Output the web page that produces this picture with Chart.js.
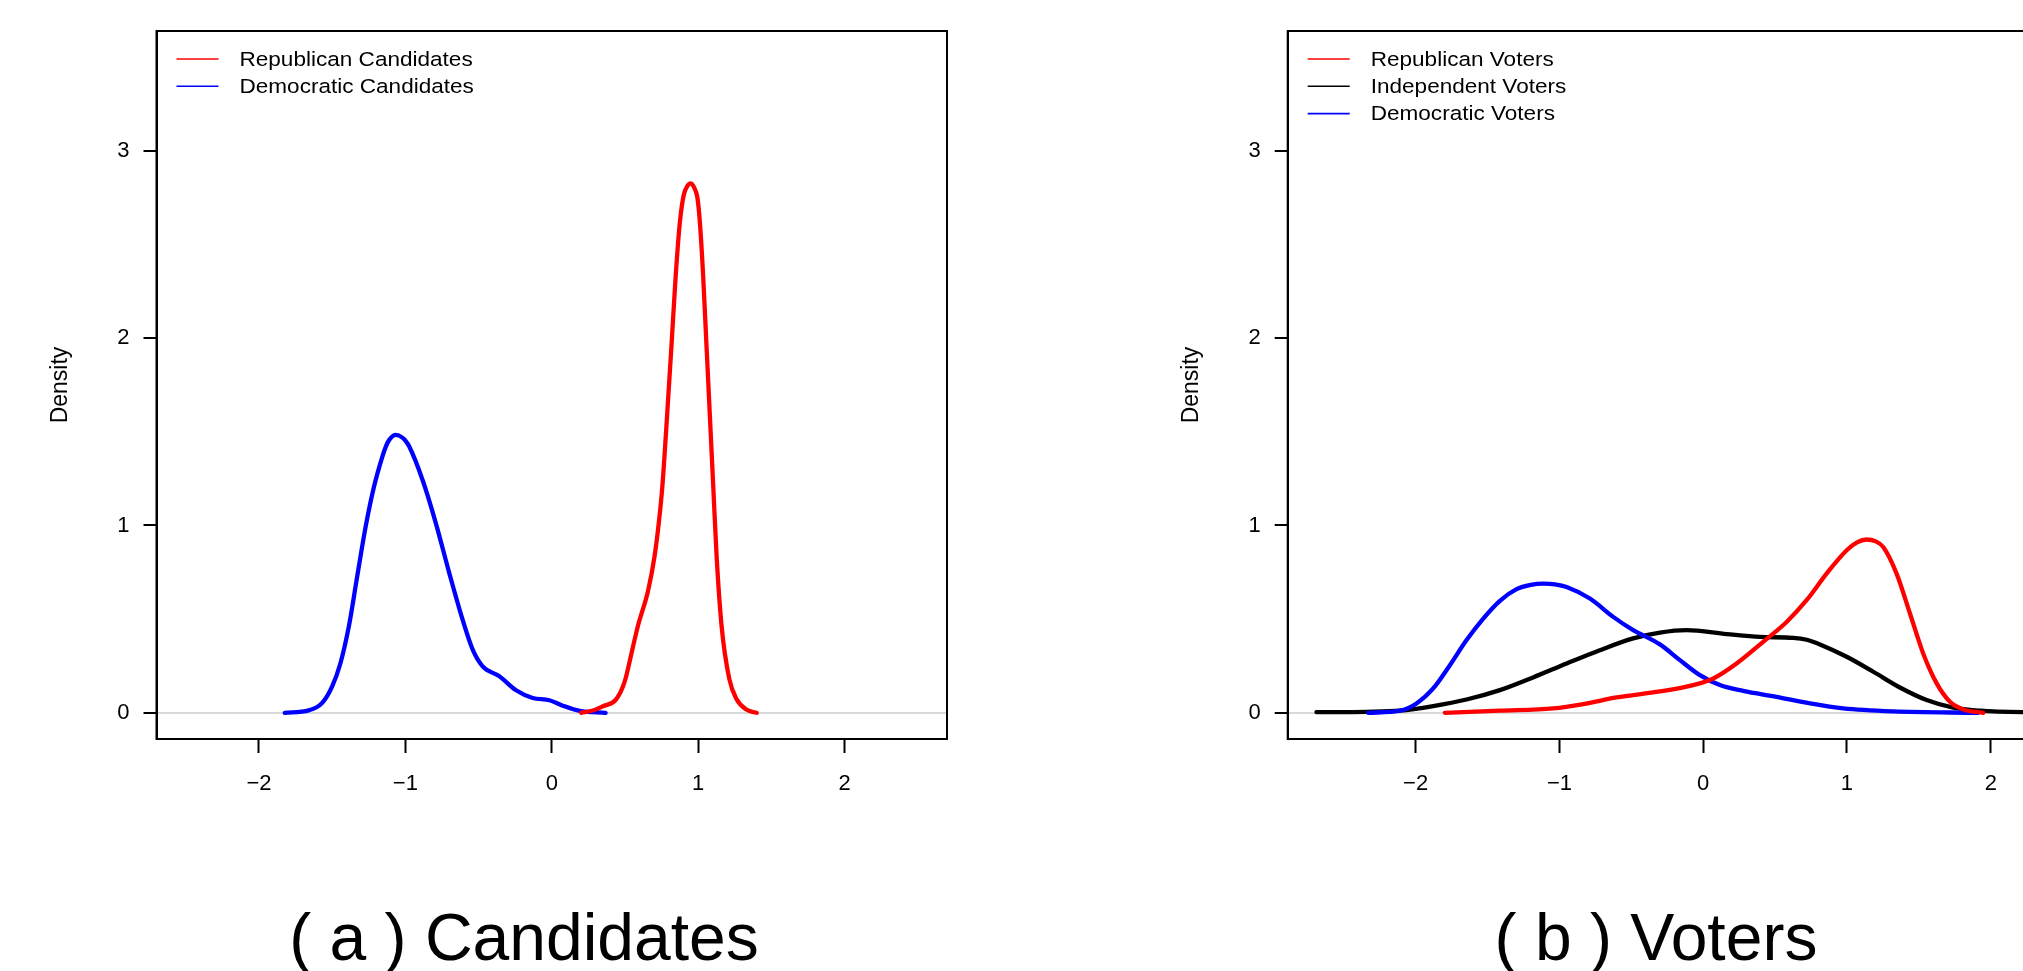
<!DOCTYPE html>
<html>
<head>
<meta charset="utf-8">
<script src="https://cdn.jsdelivr.net/npm/chart.js@4.4.0/dist/chart.umd.min.js"></script>
<style>
html,body{margin:0;padding:0;background:#fff;width:2023px;height:971px;overflow:hidden;position:relative;}
#wrapA{position:absolute;left:0;top:0;width:1000px;height:860px;}
#wrapB{position:absolute;left:1000px;top:0;width:1200px;height:860px;}
.cap{position:absolute;top:904px;font-family:"Liberation Sans",Arial,Helvetica,sans-serif;font-size:66px;line-height:66px;white-space:nowrap;color:#000;transform:translateX(-50%);}
</style>
</head>
<body>
<div id="wrapA"><canvas id="cA" width="1000" height="860"></canvas></div>
<div id="wrapB"><canvas id="cB" width="1200" height="860"></canvas></div>
<div class="cap" id="capA" style="left:524px">( a ) Candidates</div>
<div class="cap" id="capB" style="left:1656px">( b ) Voters</div>
<script>
// ---- tick labels ----
const xTicks = [-2, -1, 0, 1, 2];
const yTicks = [0, 1, 2, 3];

// ---- panel (a): candidates ----
const repCandLabel = "Republican Candidates";
const repCandX = [0.201, 0.28, 0.349, 0.441, 0.498, 0.555, 0.589, 0.658, 0.703, 0.733, 0.756, 0.788, 0.818, 0.847, 0.875, 0.902, 0.925, 0.948, 0.972, 0.995, 1.012, 1.034, 1.057, 1.080, 1.103, 1.126, 1.160, 1.212, 1.263, 1.332, 1.40];
const repCandY = [0, 0.012, 0.035, 0.073, 0.166, 0.353, 0.465, 0.652, 0.839, 1.026, 1.213, 1.588, 1.962, 2.336, 2.617, 2.766, 2.81, 2.826, 2.805, 2.75, 2.617, 2.336, 1.962, 1.588, 1.213, 0.839, 0.465, 0.184, 0.072, 0.016, 0];

const demCandLabel = "Democratic Candidates";
const demCandX = [-1.824, -1.66, -1.568, -1.50, -1.443, -1.386, -1.329, -1.271, -1.214, -1.157, -1.134, -1.11, -1.066, -1.02, -0.997, -0.975, -0.883, -0.792, -0.70, -0.609, -0.540, -0.472, -0.358, -0.244, -0.13, -0.016, 0.075, 0.19, 0.368];
const demCandY = [0, 0.013, 0.053, 0.141, 0.266, 0.461, 0.728, 0.995, 1.208, 1.368, 1.42, 1.457, 1.484, 1.469, 1.45, 1.424, 1.244, 1.013, 0.746, 0.497, 0.337, 0.248, 0.195, 0.12, 0.079, 0.067, 0.038, 0.01, 0];

// ---- panel (b): voters ----
const repVotLabel = "Republican Voters";
const repVotX = [-1.797, -1.414, -1.043, -0.835, -0.603, -0.301, -0.07, 0.07, 0.232, 0.417, 0.58, 0.719, 0.858, 0.998, 1.07, 1.137, 1.2, 1.252, 1.345, 1.438, 1.53, 1.624, 1.716, 1.809, 1.948];
const repVotY = [0, 0.011, 0.023, 0.046, 0.082, 0.114, 0.148, 0.183, 0.263, 0.379, 0.485, 0.601, 0.743, 0.868, 0.91, 0.925, 0.915, 0.885, 0.743, 0.53, 0.317, 0.157, 0.059, 0.018, 0];

const indVotLabel = "Independent Voters";
const indVotX = [-2.69, -2.342, -2.11, -1.878, -1.646, -1.414, -1.183, -0.95, -0.719, -0.487, -0.301, -0.116, 0.163, 0.394, 0.626, 0.72, 0.812, 0.998, 1.183, 1.368, 1.554, 1.739, 1.925, 2.224, 2.7];
const indVotY = [0.003, 0.005, 0.011, 0.036, 0.071, 0.121, 0.189, 0.263, 0.334, 0.397, 0.428, 0.441, 0.42, 0.405, 0.40, 0.39, 0.365, 0.299, 0.219, 0.135, 0.068, 0.027, 0.011, 0.003, 0.001];

const demVotLabel = "Democratic Voters";
const demVotX = [-2.33, -2.11, -1.994, -1.878, -1.762, -1.646, -1.53, -1.414, -1.298, -1.2, -1.113, -1.03, -0.95, -0.788, -0.626, -0.487, -0.301, -0.162, -0.023, 0.116, 0.278, 0.51, 0.742, 0.974, 1.322, 1.913];
const demVotY = [0, 0.011, 0.050, 0.130, 0.254, 0.388, 0.503, 0.598, 0.66, 0.683, 0.69, 0.686, 0.672, 0.61, 0.512, 0.441, 0.365, 0.281, 0.201, 0.148, 0.117, 0.085, 0.05, 0.023, 0.007, 0];

const FONT = '"Liberation Sans", Arial, Helvetica, sans-serif';
const pts = (xs, ys) => xs.map((x, i) => ({x: x, y: ys[i]}));
const fmt = v => (v < 0 ? '\u2212' + Math.abs(v) : String(v));

function ds(label, xs, ys, color, order) {
  return {
    label: label, data: pts(xs, ys), borderColor: color, backgroundColor: color,
    borderWidth: 4.3, pointRadius: 0, pointHoverRadius: 0, fill: false,
    cubicInterpolationMode: 'monotone', borderCapStyle: 'round', borderJoinStyle: 'round',
    order: order
  };
}

const boxAndLegend = {
  id: 'boxAndLegend',
  afterDraw(chart) {
    const ctx = chart.ctx, a = chart.chartArea;
    ctx.save();
    ctx.strokeStyle = '#000';
    ctx.lineWidth = 2;
    ctx.strokeRect(a.left, a.top, a.right - a.left, a.bottom - a.top);
    chart.data.datasets.forEach((d, i) => {
      const y = a.top + 28 + i * 27.3;
      ctx.strokeStyle = d.borderColor;
      ctx.lineWidth = 1.6;
      ctx.beginPath();
      ctx.moveTo(a.left + 20, y);
      ctx.lineTo(a.left + 62, y);
      ctx.stroke();
      ctx.save();
      ctx.translate(a.left + 83, y);
      ctx.scale(1.1, 1);
      ctx.fillStyle = '#000';
      ctx.font = '20.5px ' + FONT;
      ctx.textAlign = 'left';
      ctx.textBaseline = 'middle';
      ctx.fillText(d.label, 0, 1);
      ctx.restore();
    });
    ctx.restore();
  }
};

function makeChart(id, datasets, xMin, xMax, padLeft, padRight) {
  return new Chart(document.getElementById(id), {
    type: 'line',
    data: {datasets: datasets},
    plugins: [boxAndLegend],
    options: {
      responsive: false, animation: false, devicePixelRatio: 1,
      layout: {padding: {left: padLeft, right: padRight, top: 31, bottom: 0}},
      plugins: {legend: {display: false}, tooltip: {enabled: false}, title: {display: false}},
      scales: {
        x: {
          type: 'linear', position: 'bottom', min: xMin, max: xMax,
          afterBuildTicks: s => { s.ticks = xTicks.map(v => ({value: v})); },
          afterFit: s => { s.height = 121; },
          ticks: {callback: fmt, color: '#000', font: {family: FONT, size: 22}, padding: 18, maxRotation: 0, autoSkip: false},
          grid: {display: true, drawOnChartArea: false, drawTicks: true, tickLength: 14, tickWidth: 2, tickColor: '#000'},
          border: {display: true, color: '#000', width: 2}
        },
        y: {
          type: 'linear', position: 'left', min: -0.14, max: 3.64,
          afterBuildTicks: s => { s.ticks = yTicks.map(v => ({value: v})); },
          afterFit: s => { s.width = 156.5; },
          ticks: {callback: fmt, color: '#000', font: {family: FONT, size: 22}, padding: 14, autoSkip: false},
          grid: {
            display: true, drawOnChartArea: true, drawTicks: true, tickLength: 13, tickWidth: 2, tickColor: '#000',
            lineWidth: 2,
            color: c => (c.tick && c.tick.value === 0 ? '#d9d9d9' : 'rgba(0,0,0,0)')
          },
          border: {display: true, color: '#000', width: 2},
          title: {display: true, text: 'Density', color: '#000', font: {family: FONT, size: 23}, padding: {top: 47, bottom: 0}}
        }
      }
    }
  });
}

makeChart('cA', [
  ds(repCandLabel, repCandX, repCandY, '#ff0000', 0),
  ds(demCandLabel, demCandX, demCandY, '#0000ff', 1)
], -2.7, 2.7, 0, 53);

makeChart('cB', [
  ds(repVotLabel, repVotX, repVotY, '#ff0000', 0),
  ds(indVotLabel, indVotX, indVotY, '#000000', 2),
  ds(demVotLabel, demVotX, demVotY, '#0000ff', 1)
], -2.89, 2.885, 131.2, 82);
</script>
</body>
</html>
